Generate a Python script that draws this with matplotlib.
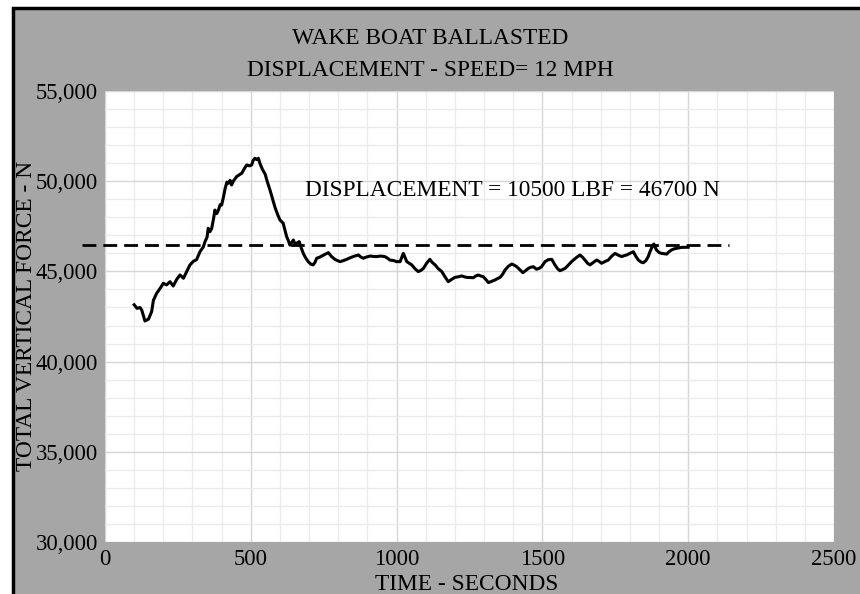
import numpy as np
import matplotlib.pyplot as plt
from matplotlib.patches import Rectangle
from matplotlib.ticker import MultipleLocator, FuncFormatter

# ================= DATA =================
time_s = [100, 110, 120, 126, 137, 149, 160, 166, 177, 189, 200, 211, 223, 234, 246, 257,
          269, 280, 291, 303, 314, 326, 337, 343, 350, 354, 360, 366, 372, 377, 383, 389,
          395, 400, 406, 412, 418, 423, 429, 434, 440, 451, 460, 469, 478, 486, 495, 503,
          508, 514, 520, 526, 531, 540, 549, 557, 566, 575, 583, 592, 600, 611, 617, 623,
          629, 634, 640, 646, 652, 657, 666, 673, 680, 688, 697, 706, 714, 720, 726, 735,
          743, 755, 766, 777, 790, 806, 818, 829, 840, 851, 860, 869, 877, 886, 897, 909,
          920, 931, 945, 960, 970, 977, 990, 1000, 1012, 1023, 1035, 1052, 1063, 1074, 1083,
          1092, 1103, 1114, 1122, 1132, 1143, 1155, 1166, 1177, 1188, 1200, 1211, 1223, 1232,
          1240, 1252, 1263, 1272, 1280, 1288, 1297, 1306, 1315, 1326, 1337, 1346, 1355, 1364,
          1372, 1383, 1395, 1403, 1412, 1422, 1433, 1443, 1452, 1460, 1469, 1480, 1490, 1497,
          1509, 1520, 1532, 1543, 1552, 1560, 1569, 1578, 1589, 1600, 1615, 1629, 1638, 1646,
          1655, 1663, 1675, 1686, 1695, 1703, 1715, 1726, 1738, 1749, 1760, 1772, 1780, 1789,
          1800, 1812, 1820, 1829, 1838, 1846, 1855, 1863, 1868, 1874, 1882, 1891, 1900, 1908,
          1917, 1926, 1935, 1943, 1952, 1960, 1977, 2000]

force_n = [43150, 42950, 43000, 42860, 42250, 42350, 42770, 43400, 43780, 44060, 44340, 44250,
           44430, 44190, 44560, 44800, 44620, 44990, 45350, 45560, 45650, 46100, 46350, 46650,
           46900, 47390, 47200, 47390, 47900, 48400, 48200, 48400, 48700, 48680, 49100, 49600,
           49950, 49880, 50050, 49790, 50000, 50250, 50350, 50440, 50700, 50900, 50850, 50900,
           51150, 51270, 51200, 51270, 51000, 50650, 50400, 49950, 49500, 49000, 48550, 48150,
           47850, 47670, 47300, 46920, 46700, 46460, 46600, 46740, 46500, 46560, 46650, 46300,
           46000, 45750, 45540, 45400, 45360, 45500, 45730, 45780, 45850, 45950, 46040, 45820,
           45650, 45540, 45600, 45670, 45750, 45820, 45870, 45910, 45800, 45730, 45800, 45850,
           45830, 45820, 45850, 45820, 45720, 45630, 45600, 45540, 45540, 46000, 45540, 45360,
           45150, 44990, 45050, 45170, 45450, 45670, 45500, 45360, 45150, 44990, 44700, 44430,
           44550, 44670, 44700, 44750, 44700, 44670, 44660, 44650, 44750, 44800, 44750, 44710,
           44550, 44380, 44450, 44520, 44600, 44670, 44850, 45080, 45280, 45410, 45350, 45260,
           45100, 44930, 45050, 45170, 45230, 45260, 45120, 45180, 45260, 45540, 45650, 45670,
           45360, 45150, 45040, 45100, 45170, 45350, 45540, 45750, 45910, 45780, 45630, 45450,
           45360, 45500, 45630, 45550, 45450, 45550, 45630, 45850, 46000, 45900, 45820, 45870,
           45910, 46000, 46090, 45850, 45630, 45520, 45480, 45600, 45820, 46050, 46280, 46520,
           46190, 46050, 46000, 45980, 45960, 46100, 46190, 46250, 46280, 46330, 46340]

disp_level = 46450
disp_span = [-80, 2140]
disp_label = "DISPLACEMENT = 10500 LBF = 46700 N"

title_lines = ["WAKE BOAT BALLASTED", "DISPLACEMENT - SPEED= 12 MPH"]

# ================= PLOT =================
plt.rcParams['font.family'] = ['Liberation Serif', 'DejaVu Serif']
FS = 16.8

W, H = 860, 594
fig = plt.figure(figsize=(W / 100, H / 100), dpi=100, facecolor='white')

# gray panel with black frame (top-left corner visible)
fig.patches.append(Rectangle((13 / W, -0.05), 1.1, 1.05 - 7.5 / H,
                             transform=fig.transFigure, facecolor='#a6a6a6',
                             edgecolor='black', linewidth=2.5, zorder=-1))

ax = fig.add_axes([105 / W, 1 - 542 / H, (834 - 105) / W, (542 - 91) / H])
ax.set_facecolor('white')

ax.plot(time_s, force_n, color='black', linewidth=2.2, zorder=3)
ax.plot(disp_span, [disp_level, disp_level], color='black', linewidth=2.0,
        dashes=(5, 2.5), clip_on=False, zorder=3)
ax.text(686, 49500, disp_label, fontsize=FS, va='center', ha='left')

ax.set_xlim(0, 2500)
ax.set_ylim(30000, 55000)
ax.xaxis.set_major_locator(MultipleLocator(500))
ax.xaxis.set_minor_locator(MultipleLocator(100))
ax.yaxis.set_major_locator(MultipleLocator(5000))
ax.yaxis.set_minor_locator(MultipleLocator(1000))
ax.yaxis.set_major_formatter(FuncFormatter(lambda v, p: f"{int(v):,}"))

ax.grid(which='major', color='#d6d6d6', linewidth=1.0)
ax.grid(which='minor', color='#ebebeb', linewidth=1.0)
ax.set_axisbelow(True)
ax.tick_params(which='both', length=0, labelsize=16.3)
ax.tick_params(axis='x', pad=5)
ax.tick_params(axis='y', pad=5)
for lbl in ax.get_yticklabels():
    lbl.set_verticalalignment('center_baseline')
for s in ax.spines.values():
    s.set_visible(False)

fig.text(430 / W, 1 - 38 / H, title_lines[0], fontsize=FS, ha='center', va='center')
fig.text(430 / W, 1 - 71 / H, title_lines[1], fontsize=FS, ha='center', va='center')
fig.text(467 / W, 1 - 584 / H, "TIME - SECONDS", fontsize=FS, ha='center', va='center')
fig.text(27 / W, 1 - 316 / H, "TOTAL VERTICAL FORCE - N", fontsize=FS,
         ha='center', va='center', rotation=90)

fig.savefig("out.png", dpi=100, facecolor=fig.get_facecolor())
